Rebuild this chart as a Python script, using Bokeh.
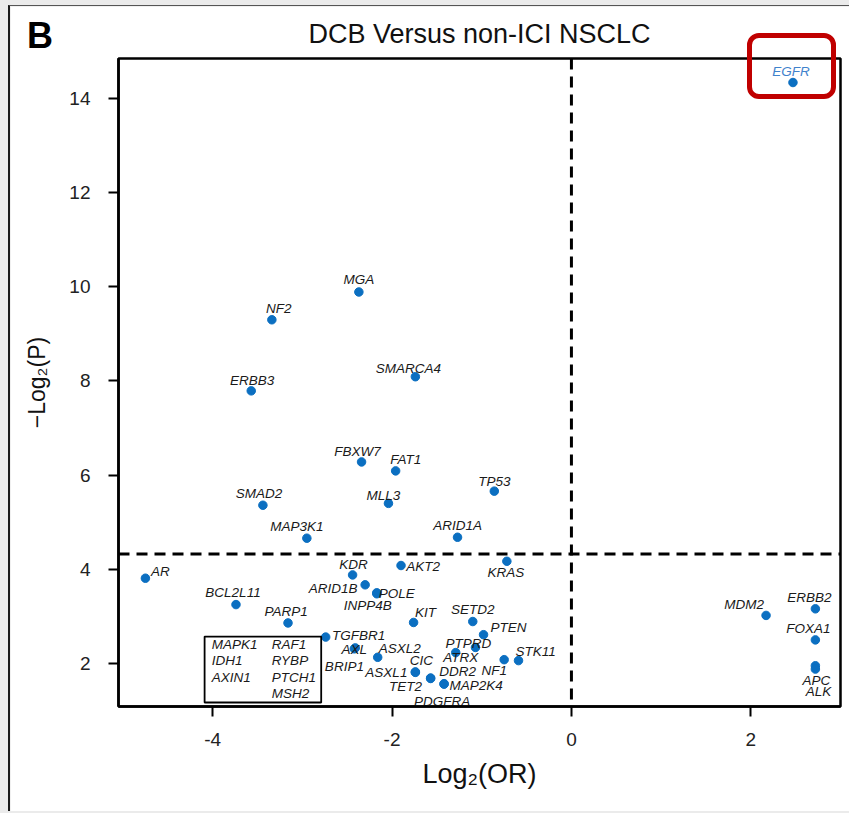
import numpy as np
from bokeh.plotting import figure
from bokeh.models import Range1d, FixedTicker, Span, BoxAnnotation, Label, ColumnDataSource, Div
from bokeh.core.properties import value
from bokeh.layouts import column
from bokeh.embed import file_html
from bokeh.resources import INLINE

# ---------------- data ----------------
genes = ["EGFR", "MGA", "NF2", "ERBB3", "SMARCA4", "FBXW7", "FAT1", "TP53", "SMAD2", "MLL3",
         "MAP3K1", "ARID1A", "AR", "KDR", "AKT2", "KRAS", "ARID1B", "POLE", "INPP4B", "BCL2L11",
         "PARP1", "KIT", "SETD2", "PTEN", "TGFBR1", "AXL", "BRIP1", "ASXL2", "PTPRD", "ATRX",
         "CIC", "ASXL1", "DDR2", "TET2", "MAP2K4", "PDGFRA", "NF1", "STK11", "MDM2", "ERBB2",
         "FOXA1", "APC", "ALK"]
log2_or = [2.47, -2.37, -3.34, -3.57, -1.74, -2.34, -1.96, -0.86, -3.44, -2.04,
           -2.95, -1.27, -4.75, -2.44, -1.90, -0.72, -2.30, -2.17, -2.17, -3.74,
           -3.16, -1.76, -1.10, -0.98, -2.74, -2.41, -2.42, -2.16, -1.07, -1.29,
           -1.74, -1.74, -1.57, -1.57, -1.42, -1.42, -0.75, -0.59, 2.17, 2.72,
           2.72, 2.72, 2.72]
neg_log2_p = [14.34, 9.89, 9.30, 7.79, 8.09, 6.28, 6.09, 5.66, 5.36, 5.40,
              4.66, 4.68, 3.81, 3.88, 4.08, 4.17, 3.67, 3.50, 3.48, 3.25,
              2.86, 2.87, 2.89, 2.61, 2.56, 2.33, 2.31, 2.13, 2.34, 2.23,
              1.82, 1.81, 1.69, 1.68, 1.57, 1.56, 2.08, 2.06, 3.02, 3.16,
              2.50, 1.95, 1.88]
highlight_gene = "EGFR"
p_threshold = 0.05
x_ticks = [-4, -2, 0, 2]
y_ticks = [2, 4, 6, 8, 10, 12, 14]
box_genes_left = ["MAPK1", "IDH1", "AXIN1"]
box_genes_right = ["RAF1", "RYBP", "PTCH1", "MSH2"]
title_text = "DCB Versus non-ICI NSCLC"
panel_letter = "B"

# ---------------- label placement (screen px offsets, + = down) ----------------
label_offsets = {
    "EGFR": (-2, -11), "MGA": (0, -12), "NF2": (7, -11), "ERBB3": (1, -10), "SMARCA4": (-7, -8),
    "FBXW7": (-4, -10), "FAT1": (10, -11), "TP53": (0, -10), "SMAD2": (-4, -12), "MLL3": (-5, -8),
    "MAP3K1": (-10, -12), "ARID1A": (0, -12), "AR": (15, -7), "KDR": (1, -10), "AKT2": (22, 1),
    "KRAS": (-1, 11), "ARID1B": (-32, 4), "POLE": (20, 1), "INPP4B": (-9, 12), "BCL2L11": (-3, -12),
    "PARP1": (-2, -11), "KIT": (12, -10), "SETD2": (0, -12), "PTEN": (25, -7), "TGFBR1": (33, -2),
    "AXL": (-1, 2), "BRIP1": (-10, 18), "ASXL2": (22, -9), "PTPRD": (-7, -4), "ATRX": (5, 5),
    "CIC": (6, -11), "ASXL1": (-29, 0), "DDR2": (27, -7), "TET2": (-25, 8), "MAP2K4": (32, 2),
    "PDGFRA": (-2, 17), "NF1": (-10, 11), "STK11": (17, -9), "MDM2": (-22, -11), "ERBB2": (-6, -11),
    "FOXA1": (-7, -11), "APC": (1, 15), "ALK": (3, 22),
}

POINT_COLOR = "#0b6fc1"
TEXT_COLOR = "#1a1a1a"
HILITE_TEXT = "#3f82cc"
GENE_FONT_SIZE = "13.5px"

src = ColumnDataSource(dict(
    x=log2_or, y=neg_log2_p, gene=genes,
    dx=[label_offsets[g][0] for g in genes],
    dy=[label_offsets[g][1] for g in genes],
    color=[HILITE_TEXT if g == highlight_gene else TEXT_COLOR for g in genes],
))

p = figure(width=841, height=806,
           x_range=Range1d(-5.05, 3.0), y_range=Range1d(1.085, 14.85),
           output_backend="svg", toolbar_location=None,
           min_border_left=108, min_border_right=11, min_border_top=52, min_border_bottom=106)
p.xgrid.visible = False
p.ygrid.visible = False
p.background_fill_color = "white"
p.border_fill_color = "white"
p.outline_line_color = "black"
p.outline_line_width = 2.5

p.title.text = title_text
p.title.align = "center"
p.title.text_font = "Liberation Sans"
p.title.text_font_size = "27px"
p.title.text_font_style = "normal"
p.title.text_color = "#111111"
p.title.standoff = 19

for ax in (p.xaxis[0], p.yaxis[0]):
    ax.axis_line_color = "black"
    ax.axis_line_width = 2.5
    ax.major_tick_line_color = "black"
    ax.major_tick_line_width = 2
    ax.major_tick_out = 10
    ax.major_tick_in = 0
    ax.minor_tick_line_color = None
    ax.major_label_text_font = "Liberation Sans"
    ax.major_label_text_font_size = "19px"
    ax.major_label_text_color = "#222222"
    ax.axis_label_text_font = "Liberation Sans"
    ax.axis_label_text_font_style = "normal"
    ax.axis_label_text_color = "#111111"

p.xaxis.ticker = FixedTicker(ticks=x_ticks)
p.yaxis.ticker = FixedTicker(ticks=y_ticks)
p.xaxis.major_label_overrides = {t: str(t) for t in x_ticks}
p.xaxis.axis_label = "Log\u2082(OR)"
p.yaxis.axis_label = "\u2212Log\u2082(P)"
p.xaxis.axis_label_text_font_size = "27px"
p.yaxis.axis_label_text_font_size = "23px"
p.xaxis.major_label_standoff = 16
p.yaxis.major_label_standoff = 18
p.xaxis.axis_label_standoff = 10
p.yaxis.axis_label_standoff = 16

# threshold lines
p.add_layout(Span(location=0, dimension="height", line_color="black", line_width=3, line_dash="11 7"))
p.add_layout(Span(location=-np.log2(p_threshold), dimension="width", line_color="black",
                  line_width=3, line_dash="11 7"))

# points and labels
p.scatter("x", "y", source=src, size=8.5, color=POINT_COLOR, line_color=POINT_COLOR)
p.text("x", "y", text="gene", source=src, x_offset="dx", y_offset="dy",
       text_font=value("Liberation Sans"), text_font_style="italic", text_font_size=GENE_FONT_SIZE,
       text_align="center", text_baseline="middle", text_color="color")

# box of genes without points
box_left, box_right, box_top, box_bottom = -4.09, -2.79, 2.57, 1.17
p.add_layout(BoxAnnotation(left=box_left, right=box_right, top=box_top, bottom=box_bottom,
                           fill_alpha=0, line_color="black", line_alpha=1.0, line_width=1.8))
row_y = [2.41, 2.06, 1.71, 1.36]
for col_x, col_genes in ((-4.01, box_genes_left), (-3.34, box_genes_right)):
    for i, g in enumerate(col_genes):
        p.add_layout(Label(x=col_x, y=row_y[i], text=g, text_font="Liberation Sans",
                           text_font_style="italic", text_font_size=GENE_FONT_SIZE,
                           text_color=TEXT_COLOR, text_baseline="middle", text_align="left"))

# panel letter and highlight frame around EGFR (page-level decorations)
letter = Div(text=panel_letter, styles={
    "position": "absolute", "left": "22px", "top": "13px", "font-family": "Liberation Sans",
    "font-weight": "bold", "font-size": "36px", "line-height": "36px", "color": "black",
    "z-index": "10"})
hbox = Div(text="", styles={
    "position": "absolute", "left": "742px", "top": "28px", "width": "89px", "height": "66px",
    "box-sizing": "border-box", "border": "5px solid #c00000", "border-radius": "12px",
    "background": "transparent", "pointer-events": "none", "z-index": "10"})

p.styles = {"border-left": "2px solid #1a1a1a", "border-top": "1px solid #555555"}
layout = column(p, letter, hbox, styles={"position": "relative", "background-color": "#ebebeb",
                                         "padding": "5px 0px 2px 8px"})

open("out.html", "w").write(file_html(layout, INLINE))
